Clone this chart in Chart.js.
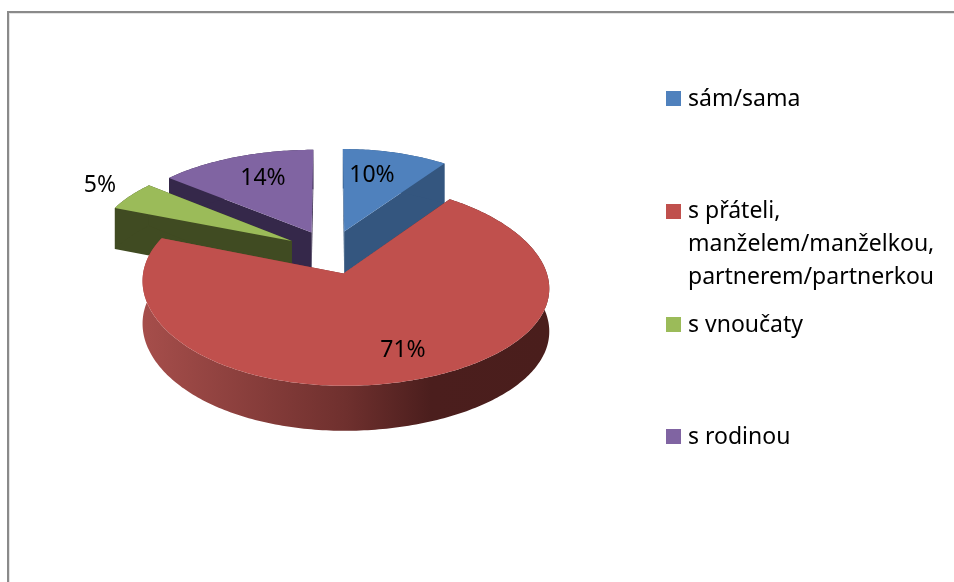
<!DOCTYPE html>
<html><head><meta charset="utf-8">
<style>html,body{margin:0;padding:0;background:#fff}canvas{display:block}</style>
<script src="https://cdn.jsdelivr.net/npm/chart.js@4"></script>
</head><body>
<canvas id="c" width="954" height="582"></canvas>
<script>
const categories = [["sám/sama"],["s přáteli,","manželem/manželkou,","partnerem/partnerkou"],["s vnoučaty"],["s rodinou"]];
const shares = [10,71,5,14];
const topColors = ["#4f81bd","#c0504d","#9bbb59","#8064a2"];
const sideColors = ["#34567f",null,"#404b22","#35284a"];
const FONT = "23px 'Noto Sans'";
// projection of the pie plane onto the page (3D tilt with perspective)
const view = {x0:330.5,y0:252,a:197,b:95.4,p:0.106,shear:-7,depth:42,explode:0.23};
const labelPos = [[372,175.5],[403,350.5],[100,185],[263,178.5]];
const legendSwatchY = [91,204,317,429];
const legendBaseY = [[106],[218,251,284],[332],[444]];

function project(u,v,down){
  const w = 1+view.p*v;
  return [view.x0+view.a*u/w+view.shear*v*u*u, view.y0-view.b*v/w+(down?view.depth/Math.sqrt(w):0)];
}
function outline(arc){
  const mid=(arc.startAngle+arc.endAngle)/2;
  const ox=Math.cos(mid)*view.explode, oy=-Math.sin(mid)*view.explode;
  const n=Math.max(4,Math.ceil((arc.endAngle-arc.startAngle)*60));
  const pts=[[ox,oy]];
  for(let i=0;i<=n;i++){
    const t=arc.startAngle+(arc.endAngle-arc.startAngle)*i/n;
    pts.push([ox+Math.cos(t),oy-Math.sin(t)]);
  }
  return pts;
}
function tracePoly(ctx,list){
  ctx.beginPath();
  list.forEach((q,k)=>{k?ctx.lineTo(q[0],q[1]):ctx.moveTo(q[0],q[1]);});
  ctx.closePath();
}
const pie3d={
  id:"pie3d",
  beforeDatasetDraw(){return false;},
  afterDatasetsDraw(chart){
    const ctx=chart.ctx, arcs=chart.getDatasetMeta(0).data;
    const redSide=ctx.createLinearGradient(142,0,549,0);
    redSide.addColorStop(0,"#a64e4b");
    redSide.addColorStop(0.5,"#6f302e");
    redSide.addColorStop(0.71,"#4b1e1d");
    redSide.addColorStop(1,"#4a1e1c");
    [0,3,2,1].forEach(i=>{
      const pts=outline(arcs[i]);
      const top=pts.map(p=>project(p[0],p[1],false));
      const bot=pts.map(p=>project(p[0],p[1],true));
      const last=pts.length-1;
      ctx.save();
      ctx.fillStyle=sideColors[i]||redSide;
      tracePoly(ctx,[top[0],top[1],bot[1],bot[0]]);ctx.fill();
      tracePoly(ctx,[top[0],top[last],bot[last],bot[0]]);ctx.fill();
      tracePoly(ctx,top.slice(1).concat(bot.slice(1).reverse()));ctx.fill();
      tracePoly(ctx,top);
      ctx.fillStyle=topColors[i];ctx.fill();
      ctx.restore();
    });
  },
  afterDraw(chart){
    const ctx=chart.ctx;
    ctx.save();
    // frame
    ctx.fillStyle="#e4e4e4";ctx.fillRect(9,13,945,1);ctx.fillRect(9,13,1,569);
    ctx.fillStyle="#8a8a8a";ctx.fillRect(7,11,947,2);ctx.fillRect(7,11,2,571);
    ctx.font=FONT;ctx.fillStyle="#000";ctx.textBaseline="middle";ctx.textAlign="center";
    shares.forEach((s,i)=>ctx.fillText(s+"%",labelPos[i][0],labelPos[i][1]));
    ctx.textBaseline="alphabetic";ctx.textAlign="left";
    categories.forEach((lines,i)=>{
      ctx.fillStyle=topColors[i];ctx.fillRect(666,legendSwatchY[i],15,15);
      ctx.fillStyle="#000";
      lines.forEach((t,k)=>ctx.fillText(t,688,legendBaseY[i][k]));
    });
    ctx.restore();
  }
};
new Chart(document.getElementById("c"),{
  type:"pie",
  data:{labels:categories.map(l=>l.join(" ")),datasets:[{data:shares,backgroundColor:topColors,borderWidth:0}]},
  options:{responsive:false,animation:false,plugins:{legend:{display:false},tooltip:{enabled:false}}},
  plugins:[pie3d]
});
</script>
</body></html>
